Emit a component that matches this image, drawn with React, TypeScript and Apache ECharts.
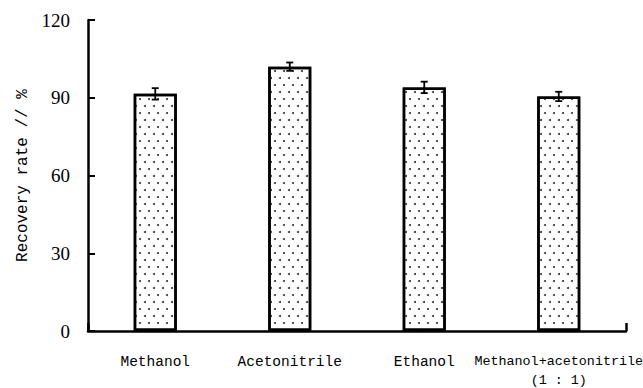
import React, { useEffect, useRef } from "react";
import * as echarts from "echarts";

const categories = ["Methanol", "Acetonitrile", "Ethanol", "Methanol+acetonitrile\n(1 : 1)"];
const recovery = [91.5, 102, 94, 90.5];
const errors = [2.2, 1.6, 2.2, 1.8];
const yTicks = { min: 0, max: 120, interval: 30 };

export default function App() {
  const ref = useRef<HTMLDivElement>(null);
  useEffect(() => {
    if (!ref.current) return;
    const chart = echarts.init(ref.current, null, { renderer: "svg" });
    const errData = recovery.map((v, i) => [i, v - errors[i], v + errors[i]]);
    const catData = categories.map((c, i) =>
      i === categories.length - 1 ? { value: c, textStyle: { fontSize: 13.4 } } : c
    );
    chart.setOption({
      animation: false,
      backgroundColor: "#fff",
      grid: { left: 88, right: 17, top: 20, bottom: 57, outerBoundsMode: "none", containLabel: false },
      xAxis: [
        {
          type: "category",
          data: catData,
          axisLine: { lineStyle: { color: "#000", width: 2.5 } },
          axisTick: { show: false },
          axisLabel: {
            color: "#000",
            fontFamily: "Liberation Mono",
            fontSize: 14.5,
            margin: 21,
            lineHeight: 19,
            interval: 0,
          },
        },
        {
          type: "value",
          position: "bottom",
          min: 0,
          max: 1,
          interval: 1,
          axisLine: { show: false },
          axisTick: { show: true, inside: true, length: 8, lineStyle: { color: "#000", width: 2.5 } },
          axisLabel: { show: false },
          splitLine: { show: false },
        },
      ],
      yAxis: {
        type: "value",
        min: yTicks.min,
        max: yTicks.max,
        interval: yTicks.interval,
        name: "Recovery rate // %",
        nameLocation: "middle",
        nameGap: 57,
        nameTextStyle: { color: "#000", fontFamily: "Liberation Mono", fontSize: 16 },
        axisLine: { show: true, lineStyle: { color: "#000", width: 2.5 } },
        axisTick: { show: true, inside: true, length: 7, lineStyle: { color: "#000", width: 2 } },
        axisLabel: { color: "#000", fontFamily: "Liberation Serif", fontSize: 19, margin: 18 },
        splitLine: { show: false },
      },
      series: [
        {
          type: "bar",
          data: recovery,
          barWidth: "32%",
          itemStyle: {
            color: "#fff",
            borderColor: "#000",
            borderWidth: 2.5,
            decal: {
              symbol: "circle",
              symbolSize: 1,
              color: "#333",
              dashArrayX: [[1.6, 6.4], [0, 4, 1.6, 2.4]],
              dashArrayY: [1.6, 4.6],
            },
          },
        },
        {
          type: "custom",
          data: errData,
          z: 10,
          renderItem: (params: any, api: any) => {
            const x = api.value(0);
            const lo = api.coord([x, api.value(1)]);
            const hi = api.coord([x, api.value(2)]);
            const hw = 3.5;
            const style = { stroke: "#000", lineWidth: 1.8 };
            return {
              type: "group",
              children: [
                { type: "line", shape: { x1: lo[0], y1: lo[1], x2: hi[0], y2: hi[1] }, style },
                { type: "line", shape: { x1: hi[0] - hw, y1: hi[1], x2: hi[0] + hw, y2: hi[1] }, style },
                { type: "line", shape: { x1: lo[0] - hw, y1: lo[1], x2: lo[0] + hw, y2: lo[1] }, style },
              ],
            };
          },
        },
      ],
    });
    return () => chart.dispose();
  }, []);
  return (
    <div
      ref={ref}
      style={{ position: "fixed", left: 0, top: 0, width: 643, height: 388, background: "#fff" }}
    />
  );
}
